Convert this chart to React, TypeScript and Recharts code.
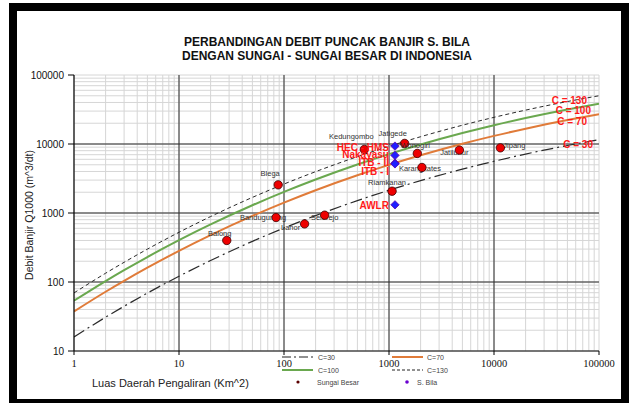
import React from 'react';
import {
  ComposedChart,
  Line,
  Scatter,
  XAxis,
  YAxis,
  CartesianGrid,
  ReferenceLine,
  ReferenceDot,
} from 'recharts';

// Catchment area (km²) at which the envelope curves are tabulated
const areaKm2 = [1, 2, 3, 5, 10, 20, 50, 100, 200, 500, 1000, 2000, 5000, 10000, 20000, 50000, 100000];
// Q1000 envelope curves (m³/dt) for each Creager coefficient
const qC30 = [16.0, 30.9, 44.5, 69.1, 121.2, 204.9, 388.5, 606.2, 916.5, 1512, 2138, 2942, 4319, 5618, 7148, 9515, 11543];
const qC70 = [37.4, 72.2, 103.9, 161.2, 282.9, 478.2, 906.4, 1414, 2139, 3529, 4987, 6865, 10077, 13110, 16678, 22201, 26935];
const qC100 = [53.5, 103.1, 148.4, 230.3, 404.1, 683.1, 1295, 2021, 3055, 5041, 7125, 9807, 14396, 18728, 23825, 31716, 38478];
const qC130 = [69.5, 134.0, 193.0, 299.4, 525.4, 888.0, 1683, 2627, 3972, 6554, 9262, 12749, 18715, 24346, 30973, 41231, 50021];

// Major Indonesian rivers
const riverNames = ['Balong', 'Blega', 'Bandugunting', 'Lahor', 'Selorejo', 'Kedungombo', 'Jatigede', 'Wonogiri', 'Karangkates', 'Riamkanan', 'Jatiluhur', 'Jipang'];
const riverArea = [28.5, 88, 84, 157, 244, 582, 1410, 1860, 2060, 1070, 4680, 11500];
const riverQ = [400, 2560, 860, 695, 930, 8350, 10200, 7300, 4570, 2070, 8150, 8800];

// S. Bila results per method
const bilaMethods = ['HEC - HMS', 'Nakayasu', 'ITB - II', 'ITB - I', 'AWLR'];
const bilaArea = [1140, 1140, 1140, 1140, 1140];
const bilaQ = [9330, 6840, 5280, 5150, 1313];

const decadeTicks = [1, 10, 100, 1000, 10000, 100000];
const curveTags = ['C = 30', 'C = 70', 'C = 100', 'C = 130'];

const toCurve = (q: number[]) => areaKm2.map((a, i) => ({ a, q: q[i] }));
const c30 = toCurve(qC30);
const c70 = toCurve(qC70);
const c100 = toCurve(qC100);
const c130 = toCurve(qC130);
const rivers = riverNames.map((name, i) => ({ name, a: riverArea[i], q: riverQ[i] }));
const bila = bilaMethods.map((name, i) => ({ name, a: bilaArea[i], q: bilaQ[i] }));

// minor grid: 1..9 within each decade
const gridTicks = (lo: number, hi: number) => {
  const out: number[] = [];
  for (let d = lo; d < hi; d *= 10) for (let k = 1; k < 10; k++) out.push(d * k);
  out.push(hi);
  return out;
};
const xGrid = gridTicks(1, 100000);
const yGrid = gridTicks(10, 100000);
const isDecade = (v: number) => decadeTicks.includes(v);

// label placement relative to each marker (text centre)
const riverLabelOffset: Record<string, [number, number]> = {
  Balong: [-7, -7],
  Blega: [-8, -12],
  Bandugunting: [-13, 0],
  Lahor: [-14, 3],
  Selorejo: [0, 2],
  Kedungombo: [-13, -13],
  Jatigede: [-12, -10],
  Wonogiri: [-2, -8],
  Karangkates: [-2, 1],
  Riamkanan: [-5, -9],
  Jatiluhur: [-5, 2],
  Jipang: [14, -3],
};
const bilaLabelDy: Record<string, number> = {
  'HEC - HMS': 1,
  Nakayasu: -1,
  'ITB - II': -1,
  'ITB - I': 8,
  AWLR: 1,
};
const curveTagOffset: Record<string, [number, number]> = {
  'C = 30': [-6, 8.5],
  'C = 70': [-12, 10.5],
  'C = 100': [-8, 10],
  'C = 130': [-12, 8],
};

const SANS = 'Arial, "Liberation Sans", Helvetica, sans-serif';
const SERIF = '"Times New Roman", "Liberation Serif", serif';

const XTick = (props: any) => {
  const { x, y, payload } = props;
  if (!isDecade(payload.value)) return <g />;
  return (
    <g>
      <line x1={x} x2={x} y1={y - 8} y2={y - 4} stroke="#000" strokeWidth={1} />
      <text x={x} y={y + 7.5} textAnchor="middle" fontFamily={SERIF} fontSize={10.5} fill="#111">
        {payload.value}
      </text>
    </g>
  );
};

const YTick = (props: any) => {
  const { x, y, payload } = props;
  if (!isDecade(payload.value)) return <g />;
  return (
    <g>
      <line x1={x + 4} x2={x + 10} y1={y} y2={y} stroke="#000" strokeWidth={1} />
      <text x={x} y={y + 3.6} textAnchor="end" fontFamily={SANS} fontSize={10} fill="#111">
        {payload.value}
      </text>
    </g>
  );
};

const RiverDot = (props: any) => {
  const { cx, cy, payload } = props;
  const [dx, dy] = riverLabelOffset[payload.name] || [0, -10];
  return (
    <g>
      <text x={cx + dx} y={cy + dy + 2.7} textAnchor="middle" fontFamily={SANS} fontSize={7.5} fill="#333">
        {payload.name}
      </text>
      <circle cx={cx} cy={cy} r={4.2} fill="#ee0000" stroke="#3a0000" strokeWidth={0.8} />
    </g>
  );
};

const BilaDiamond = (props: any) => {
  const { cx, cy, payload } = props;
  const dy = bilaLabelDy[payload.name] || 0;
  const r = 4.2;
  return (
    <g>
      <text x={cx - 6} y={cy + dy + 3.5} textAnchor="end" fontFamily={SANS} fontSize={10} fontWeight="bold" fill="#ff1a1a">
        {payload.name}
      </text>
      <polygon
        points={`${cx},${cy - r} ${cx + r},${cy} ${cx},${cy + r} ${cx - r},${cy}`}
        fill="#1f1fff"
        stroke="#5a00b0"
        strokeWidth={0.8}
      />
    </g>
  );
};

const CurveTag = (props: any) => {
  const { viewBox, text } = props;
  const cx = viewBox.x + viewBox.width / 2;
  const cy = viewBox.y + viewBox.height / 2;
  const [dx, dy] = curveTagOffset[text];
  return (
    <text x={cx + dx} y={cy + dy} textAnchor="end" fontFamily={SANS} fontSize={10} fontWeight="bold" fill="#ff1a1a">
      {text}
    </text>
  );
};

const curveEnds = [qC30, qC70, qC100, qC130].map((q) => q[q.length - 1]);
const lastArea = areaKm2[areaKm2.length - 1];

const Legend = () => (
  <svg width={629} height={403} style={{ position: 'absolute', left: 0, top: 0, pointerEvents: 'none' }}>
    <text x={327} y={45.5} textAnchor="middle" fontFamily={SANS} fontSize={12} fontWeight="bold" fill="#111">
      PERBANDINGAN DEBIT PUNCAK BANJIR S. BILA
    </text>
    <text x={327} y={59.5} textAnchor="middle" fontFamily={SANS} fontSize={12} fontWeight="bold" fill="#111">
      DENGAN SUNGAI - SUNGAI BESAR DI INDONESIA
    </text>
    <text
      x={0}
      y={0}
      transform="translate(33,215) rotate(-90)"
      textAnchor="middle"
      fontFamily={SANS}
      fontSize={10.5}
      fill="#222"
    >
      Debit Banjir Q1000 (m^3/dt)
    </text>
    <text x={92} y={387} fontFamily={SANS} fontSize={11} fill="#222">
      Luas Daerah Pengaliran (Km^2)
    </text>
    {/* legend */}
    <g fontFamily={SANS} fontSize={7} fill="#444">
      <line x1={282} x2={313} y1={357} y2={357} stroke="#222" strokeWidth={1.2} strokeDasharray="9 3 2 3" />
      <text x={318} y={359.5}>C=30</text>
      <line x1={392} x2={423} y1={357} y2={357} stroke="#e07b39" strokeWidth={2} />
      <text x={427} y={359.5}>C=70</text>
      <line x1={282} x2={313} y1={370} y2={370} stroke="#6aa84f" strokeWidth={2} />
      <text x={318} y={372.5}>C=100</text>
      <line x1={392} x2={423} y1={370} y2={370} stroke="#222" strokeWidth={1} strokeDasharray="3 2" />
      <text x={427} y={372.5}>C=130</text>
      <circle cx={298} cy={382} r={1.6} fill="#5a0000" />
      <text x={317} y={384.5}>Sungai Besar</text>
      <circle cx={407} cy={382} r={1.8} fill="#6a00d0" />
      <text x={417} y={384.5}>S. Bila</text>
    </g>
  </svg>
);

export default function App() {
  return (
    <div style={{ position: 'absolute', left: 0, top: 0, width: 629, height: 403, background: '#fff', overflow: 'hidden' }}>
      <div
        style={{
          position: 'absolute',
          left: 9,
          top: 3,
          width: 620,
          height: 400,
          boxSizing: 'border-box',
          borderStyle: 'solid',
          borderColor: '#000',
          borderWidth: '8px 8px 4px 8px',
        }}
      />
      <Legend />
      <div style={{ position: 'absolute', left: 0, top: 0 }}>
        <ComposedChart width={629} height={403} margin={{ top: 75, right: 30, bottom: 22, left: 14 }}>
          <CartesianGrid stroke="#d6d6d6" strokeWidth={1} />
          <XAxis
            type="number"
            dataKey="a"
            scale="log"
            domain={[1, 100000]}
            ticks={xGrid}
            interval={0}
            allowDataOverflow
            height={30}
            tickSize={4}
            tickMargin={4}
            tickLine={false}
            axisLine={{ stroke: '#000', strokeWidth: 1.2 }}
            tick={<XTick />}
          />
          <YAxis
            type="number"
            dataKey="q"
            scale="log"
            domain={[10, 100000]}
            ticks={yGrid}
            interval={0}
            allowDataOverflow
            width={60}
            tickSize={6}
            tickMargin={4}
            tickLine={false}
            axisLine={{ stroke: '#000', strokeWidth: 1.2 }}
            tick={<YTick />}
          />
          {decadeTicks.slice(1, -1).map((v) => (
            <ReferenceLine key={`x${v}`} x={v} stroke="#2a2a2a" strokeWidth={1} />
          ))}
          {decadeTicks.slice(2, -1).map((v) => (
            <ReferenceLine key={`y${v}`} y={v} stroke="#2a2a2a" strokeWidth={1} />
          ))}
          <Line data={c30} dataKey="q" type="monotone" dot={false} stroke="#2a2a2a" strokeWidth={1.2} strokeDasharray="12 4 2 4" isAnimationActive={false} />
          <Line data={c70} dataKey="q" type="monotone" dot={false} stroke="#e07b39" strokeWidth={2} isAnimationActive={false} />
          <Line data={c100} dataKey="q" type="monotone" dot={false} stroke="#6aa84f" strokeWidth={2} isAnimationActive={false} />
          <Line data={c130} dataKey="q" type="monotone" dot={false} stroke="#2a2a2a" strokeWidth={1} strokeDasharray="4 3" isAnimationActive={false} />
          <Scatter data={rivers} dataKey="q" shape={<RiverDot />} isAnimationActive={false} />
          <Scatter data={bila} dataKey="q" shape={<BilaDiamond />} isAnimationActive={false} />
          {curveTags.map((t, i) => (
            <ReferenceDot
              key={t}
              x={lastArea}
              y={curveEnds[i]}
              r={1}
              fill="none"
              stroke="none"
              ifOverflow="visible"
              label={<CurveTag text={t} />}
            />
          ))}
        </ComposedChart>
      </div>
    </div>
  );
}
